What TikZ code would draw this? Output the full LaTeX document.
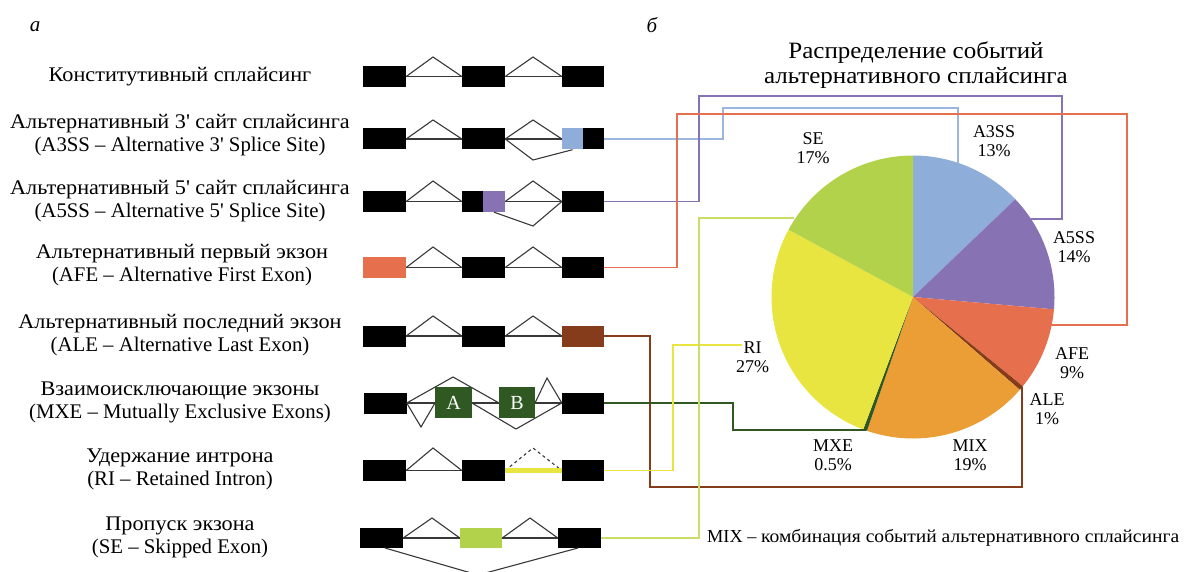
\documentclass[tikz,border=0pt]{standalone}
\usepackage{fontspec}
\setmainfont{Liberation Serif}
\newfontfamily\cyrs[FakeStretch=1.069]{Liberation Serif}
\definecolor{cA3}{HTML}{8FADD9}
\definecolor{cA5}{HTML}{8773B4}
\definecolor{cAFE}{HTML}{E6704E}
\definecolor{cALE}{HTML}{843C1A}
\definecolor{cMIX}{HTML}{EC9E36}
\definecolor{cMXE}{HTML}{2F5823}
\definecolor{cRI}{HTML}{E8E440}
\definecolor{cSE}{HTML}{B3D24B}
\definecolor{lA3}{HTML}{9AB6E0}
\definecolor{lSE}{HTML}{C8DE66}
\newcommand{\pcx}{913}\newcommand{\pcy}{297}\newcommand{\prr}{141.5}
\newcommand{\pieslice}[3]{\fill[#1] (\pcx,\pcy) -- ++({\prr*cos(#2)},{\prr*sin(#2)}) arc[start angle=#2, end angle=#3, radius=\prr] -- cycle;}
\begin{document}
\begin{tikzpicture}[x=1pt,y=-1pt,
 exon/.style={rectangle, fill=black, inner sep=0pt, minimum height=21pt, minimum width=43pt},
 intr/.style={draw=black!78, line width=1.1pt},
 conn/.style={line width=1.2pt},
 lbl/.style={font=\fontsize{20.8}{23}\selectfont, align=center, inner sep=0pt},
 plbl/.style={font=\fontsize{18}{19}\selectfont, align=center, inner sep=0pt}]
\useasboundingbox (0,0) rectangle (1186,572);

% panel letters
\node[font=\fontsize{21}{22}\selectfont\itshape] (la) at (35,27) {а};
\node[font=\fontsize{21}{22}\selectfont\itshape] (lb) at (652,25) {б};

% left labels
\node[lbl] (t1) at (180,77) {\cyrs Конститутивный сплайсинг};
\node[lbl] (t2) at (180,135) {{\cyrs Альтернативный 3\textquotesingle{} сайт сплайсинга}\\(A3SS – Alternative 3\textquotesingle{} Splice Site)};
\node[lbl] (t3) at (180,201) {{\cyrs Альтернативный 5\textquotesingle{} сайт сплайсинга}\\(A5SS – Alternative 5\textquotesingle{} Splice Site)};
\node[lbl] (t4) at (182,265) {{\cyrs Альтернативный первый экзон}\\(AFE – Alternative First Exon)};
\node[lbl] (t5) at (180,335.5) {{\cyrs Альтернативный последний экзон}\\(ALE – Alternative Last Exon)};
\node[lbl] (t6) at (180,402) {{\cyrs Взаимоисключающие экзоны}\\(MXE – Mutually Exclusive Exons)};
\node[lbl] (t7) at (180,469) {{\cyrs Удержание интрона}\\(RI – Retained Intron)};
\node[lbl] (t8) at (180,537.5) {{\cyrs Пропуск экзона}\\(SE – Skipped Exon)};

% row 1
\node[exon] (r1a) at (384.5,76.5) {};
\node[exon] (r1b) at (483.5,76.5) {};
\node[exon, minimum width=42pt] (r1c) at (583,76.5) {};
\draw[intr] (r1a.east) -- (r1b.west) (r1b.east) -- (r1c.west);
\draw[intr] (r1a.east) -- (433,57) -- (r1b.west);
\draw[intr] (r1b.east) -- (533,57) -- (r1c.west);

% row 2 A3SS
\node[exon] (r2a) at (384.5,139) {};
\node[exon] (r2b) at (483.5,139) {};
\node[exon, fill=cA3, minimum width=21pt] (r2c) at (572.5,139) {};
\node[exon, minimum width=21pt] (r2d) at (593.5,139) {};
\draw[intr] (r2a.east) -- (r2b.west) (r2b.east) -- (r2c.west);
\draw[intr] (r2a.east) -- (433,120) -- (r2b.west);
\draw[intr] (r2b.east) -- (533,120) -- (r2c.west);
\draw[intr] (r2b.east) -- (533,160) -- (r2c.south);

% row 3 A5SS
\node[exon] (r3a) at (384.5,201.5) {};
\node[exon, minimum width=21pt] (r3b) at (472.5,201.5) {};
\node[exon, fill=cA5, minimum width=22pt] (r3p) at (494,201.5) {};
\node[exon, minimum width=42pt] (r3c) at (583,201.5) {};
\draw[intr] (r3a.east) -- (r3b.west) (r3p.east) -- (r3c.west);
\draw[intr] (r3a.east) -- (433,181) -- (r3b.west);
\draw[intr] (r3p.east) -- (533,181) -- (r3c.west);
\draw[intr] (r3p.south) -- (533,226) -- (r3c.west);

% row 4 AFE
\node[exon, fill=cAFE] (r4a) at (384.5,267.5) {};
\node[exon] (r4b) at (483.5,267.5) {};
\node[exon, minimum width=42pt] (r4c) at (583,267.5) {};
\draw[intr] (r4a.east) -- (r4b.west) (r4b.east) -- (r4c.west);
\draw[intr] (r4a.east) -- (433,247) -- (r4b.west);
\draw[intr] (r4b.east) -- (533,247) -- (r4c.west);

% row 5 ALE
\node[exon] (r5a) at (384.5,336) {};
\node[exon] (r5b) at (483.5,336) {};
\node[exon, fill=cALE, minimum width=42pt] (r5c) at (583,336) {};
\draw[intr] (r5a.east) -- (r5b.west) (r5b.east) -- (r5c.west);
\draw[intr] (r5a.east) -- (433,316) -- (r5b.west);
\draw[intr] (r5b.east) -- (533,316) -- (r5c.west);

% row 6 MXE
\node[exon] (r6a) at (385,403) {};
\node[exon, minimum width=42pt] (r6c) at (583,403) {};
\draw[intr] (r6a.east) -- (r6c.west);
\draw[intr] (r6a.east) -- (453,377) -- (499,403);
\draw[intr] (r6a.east) -- (421,427) -- (435,403);
\draw[intr] (472,403) -- (516,429) -- (r6c.west);
\draw[intr] (535,403) -- (547,378) -- (r6c.west);
\node[exon, fill=cMXE, minimum width=37pt, minimum height=31pt, text=white, font=\fontsize{20}{22}\selectfont] (mA) at (453.5,402.5) {A};
\node[exon, fill=cMXE, minimum width=36pt, minimum height=31pt, text=white, font=\fontsize{20}{22}\selectfont] (mB) at (517,402.5) {B};

% row 7 RI
\node[exon] (r7a) at (384.5,470.5) {};
\node[exon] (r7b) at (483.5,470.5) {};
\node[exon, minimum width=42pt] (r7c) at (583,470.5) {};
\draw[intr] (r7a.east) -- (r7b.west);
\draw[intr] (r7a.east) -- (433,448) -- (r7b.west);
\draw[intr, dashed, dash pattern=on 3pt off 3pt] (r7b.east) -- (533,448) -- (r7c.west);
\draw[cRI, line width=5pt] (r7b.east) -- (r7c.west);

% row 8 SE
\node[exon, minimum height=20pt] (r8a) at (381.5,538) {};
\node[exon, fill=cSE, minimum width=42pt, minimum height=20pt] (r8b) at (481,538) {};
\node[exon, minimum height=20pt] (r8c) at (579.5,538) {};
\draw[intr] (r8a.east) -- (r8b.west) (r8b.east) -- (r8c.west);
\draw[intr] (r8a.east) -- (432,518) -- (r8b.west);
\draw[intr] (r8b.east) -- (530,518) -- (r8c.west);
\draw[intr] (385,548) -- (478,575) -- (578,548);

% pie, angles negated because y axis points down
\pieslice{cA3}{-90}{-43.7}
\pieslice{cA5}{-43.7}{5}
\pieslice{cAFE}{5}{39.1}
\pieslice{cALE}{39.1}{41}
\pieslice{cMIX}{41}{109}
\pieslice{cMXE}{109}{110.6}
\pieslice{cRI}{110.6}{208.4}
\pieslice{cSE}{208.4}{270}
\coordinate (pA3) at (958,163);
\coordinate (pA5) at (1031,219);
\coordinate (pAFE) at (1051,325);
\coordinate (pALE) at (1022,387);
\coordinate (pMXE) at (866,430);
\coordinate (pSE) at (794,218);
\coordinate (pRI) at (742,345);

% title
\node[font=\fontsize{23.4}{25}\selectfont\cyrs, align=center, inner sep=0pt] (title) at (916,65.5) {Распределение событий\\альтернативного сплайсинга};

% pie labels
\node[plbl] (lSE) at (813,148.5) {SE\\17\%};
\node[plbl] (lA3) at (994,141) {A3SS\\13\%};
\node[plbl] (lA5) at (1074,247.5) {A5SS\\14\%};
\node[plbl] (lAFE) at (1072,363) {AFE\\9\%};
\node[plbl] (lALE) at (1047,409.5) {ALE\\1\%};
\node[plbl] (lMIX) at (970,455.5) {MIX\\19\%};
\node[plbl] (lMXE) at (833,455.5) {MXE\\0.5\%};
\node[plbl] (lRI) at (752.5,357) {RI\\27\%};
\node[plbl, anchor=west, font=\fontsize{18.3}{19}\selectfont] (note) at (707,538) {MIX – {\cyrs комбинация событий альтернативного сплайсинга}};

% connectors
\draw[conn, lA3] (r2d.east) -- (723,139) -- (723,108) -- (958,108) -- (pA3);
\draw[conn, cA5] (r3c.east) -- (699,201.5) -- (699,96) -- (1062,96) -- (1062,219) -- (pA5);
\draw[conn, cAFE] (r4c.east) -- (677,267.5) -- (677,114) -- (1127,114) -- (1127,325) -- (pAFE);
\draw[conn, cALE] (r5c.east) -- (650,336) -- (650,487) -- (1022,487) -- (pALE);
\draw[conn, cMXE] (r6c.east) -- (733,403) -- (733,430) -- (pMXE);
\draw[conn, cRI] (r7c.east) -- (673,470.5) -- (673,345) -- (pRI);
\draw[conn, lSE] (r8c.east) -- (699,538) -- (699,218) -- (pSE);
\end{tikzpicture}
\end{document}
